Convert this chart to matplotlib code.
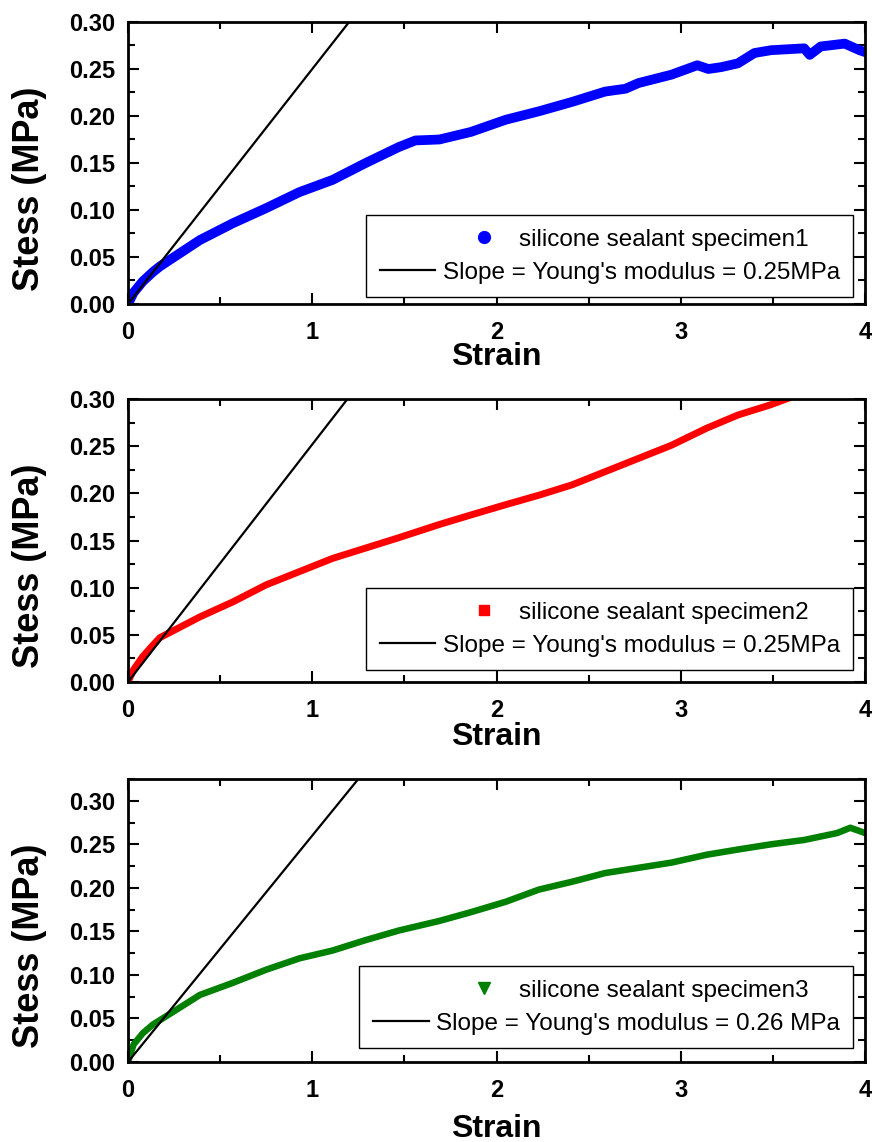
import numpy as np
import matplotlib
matplotlib.use('Agg')
import matplotlib.pyplot as plt
from matplotlib.lines import Line2D
from matplotlib.offsetbox import DrawingArea
from matplotlib.ticker import MultipleLocator, FormatStrFormatter

plt.rcParams['font.family'] = ['Liberation Sans', 'DejaVu Sans']
plt.rcParams['font.weight'] = 'bold'

# specimen 1 (blue circles)
strain1 = [0.0, 0.03, 0.08, 0.135, 0.173, 0.39, 0.57, 0.75, 0.93, 1.11, 1.29, 1.47, 1.56,
           1.69, 1.86, 2.05, 2.23, 2.41, 2.59, 2.70, 2.77, 2.95, 3.09, 3.15, 3.22, 3.31,
           3.40, 3.49, 3.67, 3.70, 3.76, 3.89, 3.97, 4.0]
stress1 = [0.0, 0.012, 0.024, 0.034, 0.040, 0.068, 0.086, 0.102, 0.119, 0.132, 0.150, 0.167, 0.174,
           0.175, 0.183, 0.196, 0.205, 0.215, 0.226, 0.229, 0.235, 0.244, 0.254, 0.250, 0.252, 0.256,
           0.267, 0.270, 0.272, 0.265, 0.274, 0.277, 0.270, 0.268]

# specimen 2 (red squares)
strain2 = [0.0, 0.03, 0.08, 0.135, 0.173, 0.39, 0.57, 0.75, 0.93, 1.11, 1.29, 1.47, 1.69,
           1.86, 2.05, 2.23, 2.41, 2.59, 2.77, 2.95, 3.14, 3.31, 3.49, 3.60]
stress2 = [0.0, 0.013, 0.027, 0.039, 0.047, 0.069, 0.085, 0.103, 0.117, 0.131, 0.142, 0.153, 0.167,
           0.177, 0.188, 0.198, 0.209, 0.223, 0.237, 0.251, 0.269, 0.283, 0.294, 0.302]

# specimen 3 (green triangles)
strain3 = [0.0, 0.03, 0.08, 0.135, 0.173, 0.39, 0.57, 0.75, 0.93, 1.11, 1.29, 1.47, 1.69,
           1.86, 2.05, 2.23, 2.41, 2.59, 2.77, 2.95, 3.14, 3.31, 3.49, 3.67, 3.85, 3.92, 4.0]
stress3 = [0.0, 0.020, 0.033, 0.043, 0.048, 0.077, 0.091, 0.106, 0.119, 0.128, 0.140, 0.151, 0.162,
           0.172, 0.184, 0.198, 0.207, 0.217, 0.223, 0.229, 0.238, 0.244, 0.250, 0.255, 0.263, 0.269, 0.263]

# Young's modulus lines (end points)
fit_strain = [0.0, 1.35]
fit_stress1 = [0.0, 0.3375]
fit_stress2 = [0.0, 0.340]
fit_stress3 = [0.0, 0.351]

labels = ['silicone sealant specimen1', 'silicone sealant specimen2', 'silicone sealant specimen3']
fit_labels = ["Slope = Young's modulus = 0.25MPa", "Slope = Young's modulus = 0.25MPa",
              "Slope = Young's modulus = 0.26 MPa"]

W, H = 872, 1142
fig = plt.figure(figsize=(W / 100, H / 100), dpi=100)


def make_axes(top, bottom):
    return fig.add_axes([128 / W, 1 - bottom / H, 737 / W, (bottom - top) / H])


def add_legend(ax, handles, labs, anchor, extra):
    leg = ax.legend(handles, labs, loc='lower right', bbox_to_anchor=anchor,
                    prop=dict(size=17.5, weight='normal'), frameon=True, fancybox=False,
                    edgecolor='black', framealpha=1, handlelength=2.3, handletextpad=0.3,
                    borderpad=0.55, labelspacing=0.45, borderaxespad=0)
    leg.get_frame().set_linewidth(1.0)
    # first row sits further right, like the original legend
    col = leg._legend_handle_box.get_children()[0]
    col.align = 'right'
    row1 = col.get_children()[0]
    row1.get_children().append(DrawingArea(extra, 1))
    return leg


def style(ax, ymax, xpad):
    ax.set_xlim(0, 4)
    ax.set_ylim(0, ymax)
    ax.xaxis.set_major_locator(MultipleLocator(1))
    ax.xaxis.set_minor_locator(MultipleLocator(0.5))
    ax.yaxis.set_major_locator(MultipleLocator(0.05))
    ax.yaxis.set_minor_locator(MultipleLocator(0.025))
    ax.xaxis.set_major_formatter(FormatStrFormatter('%d'))
    ax.yaxis.set_major_formatter(FormatStrFormatter('%.2f'))
    ax.tick_params(which='both', direction='in', top=True, right=True, width=1.5, labelsize=17)
    ax.tick_params(axis='y', pad=9)
    ax.tick_params(axis='x', pad=12)
    ax.tick_params(which='major', length=8)
    ax.tick_params(which='minor', length=5)
    for s in ax.spines.values():
        s.set_linewidth(2)
    ax.set_xlabel('Strain', fontsize=23, fontweight='bold', labelpad=xpad)
    ax.set_ylabel('Stess (MPa)', fontsize=26, fontweight='bold', labelpad=16, y=0.41)


panels = [
    (22, 304, 0.30, strain1, stress1, fit_stress1, 'blue', 'o', 8.5, 7.0, -1, (0.984, 0.025)),
    (399, 682, 0.30, strain2, stress2, fit_stress2, 'red', 's', 7, 5.0, 0, (0.984, 0.042)),
    (779, 1062, 0.325, strain3, stress3, fit_stress3, 'green', 'v', 9, 4.7, 9, (0.984, 0.049)),
]

for i, (top, bot, ymax, xs, ys, fy, col, mk, ms, lw, xpad, anchor) in enumerate(panels):
    ax = make_axes(top, bot)
    ax.plot(xs, ys, color=col, lw=lw, solid_capstyle='round', solid_joinstyle='round')
    ax.plot(fit_strain, fy, color='black', lw=1.6)
    style(ax, ymax, xpad)
    h1 = Line2D([], [], ls='none', marker=mk, color=col, ms=ms)
    h2 = Line2D([], [], color='black', lw=1.6)
    add_legend(ax, [h1, h2], [labels[i], fit_labels[i]], anchor, 17)

fig.savefig('out.png', dpi=100)
